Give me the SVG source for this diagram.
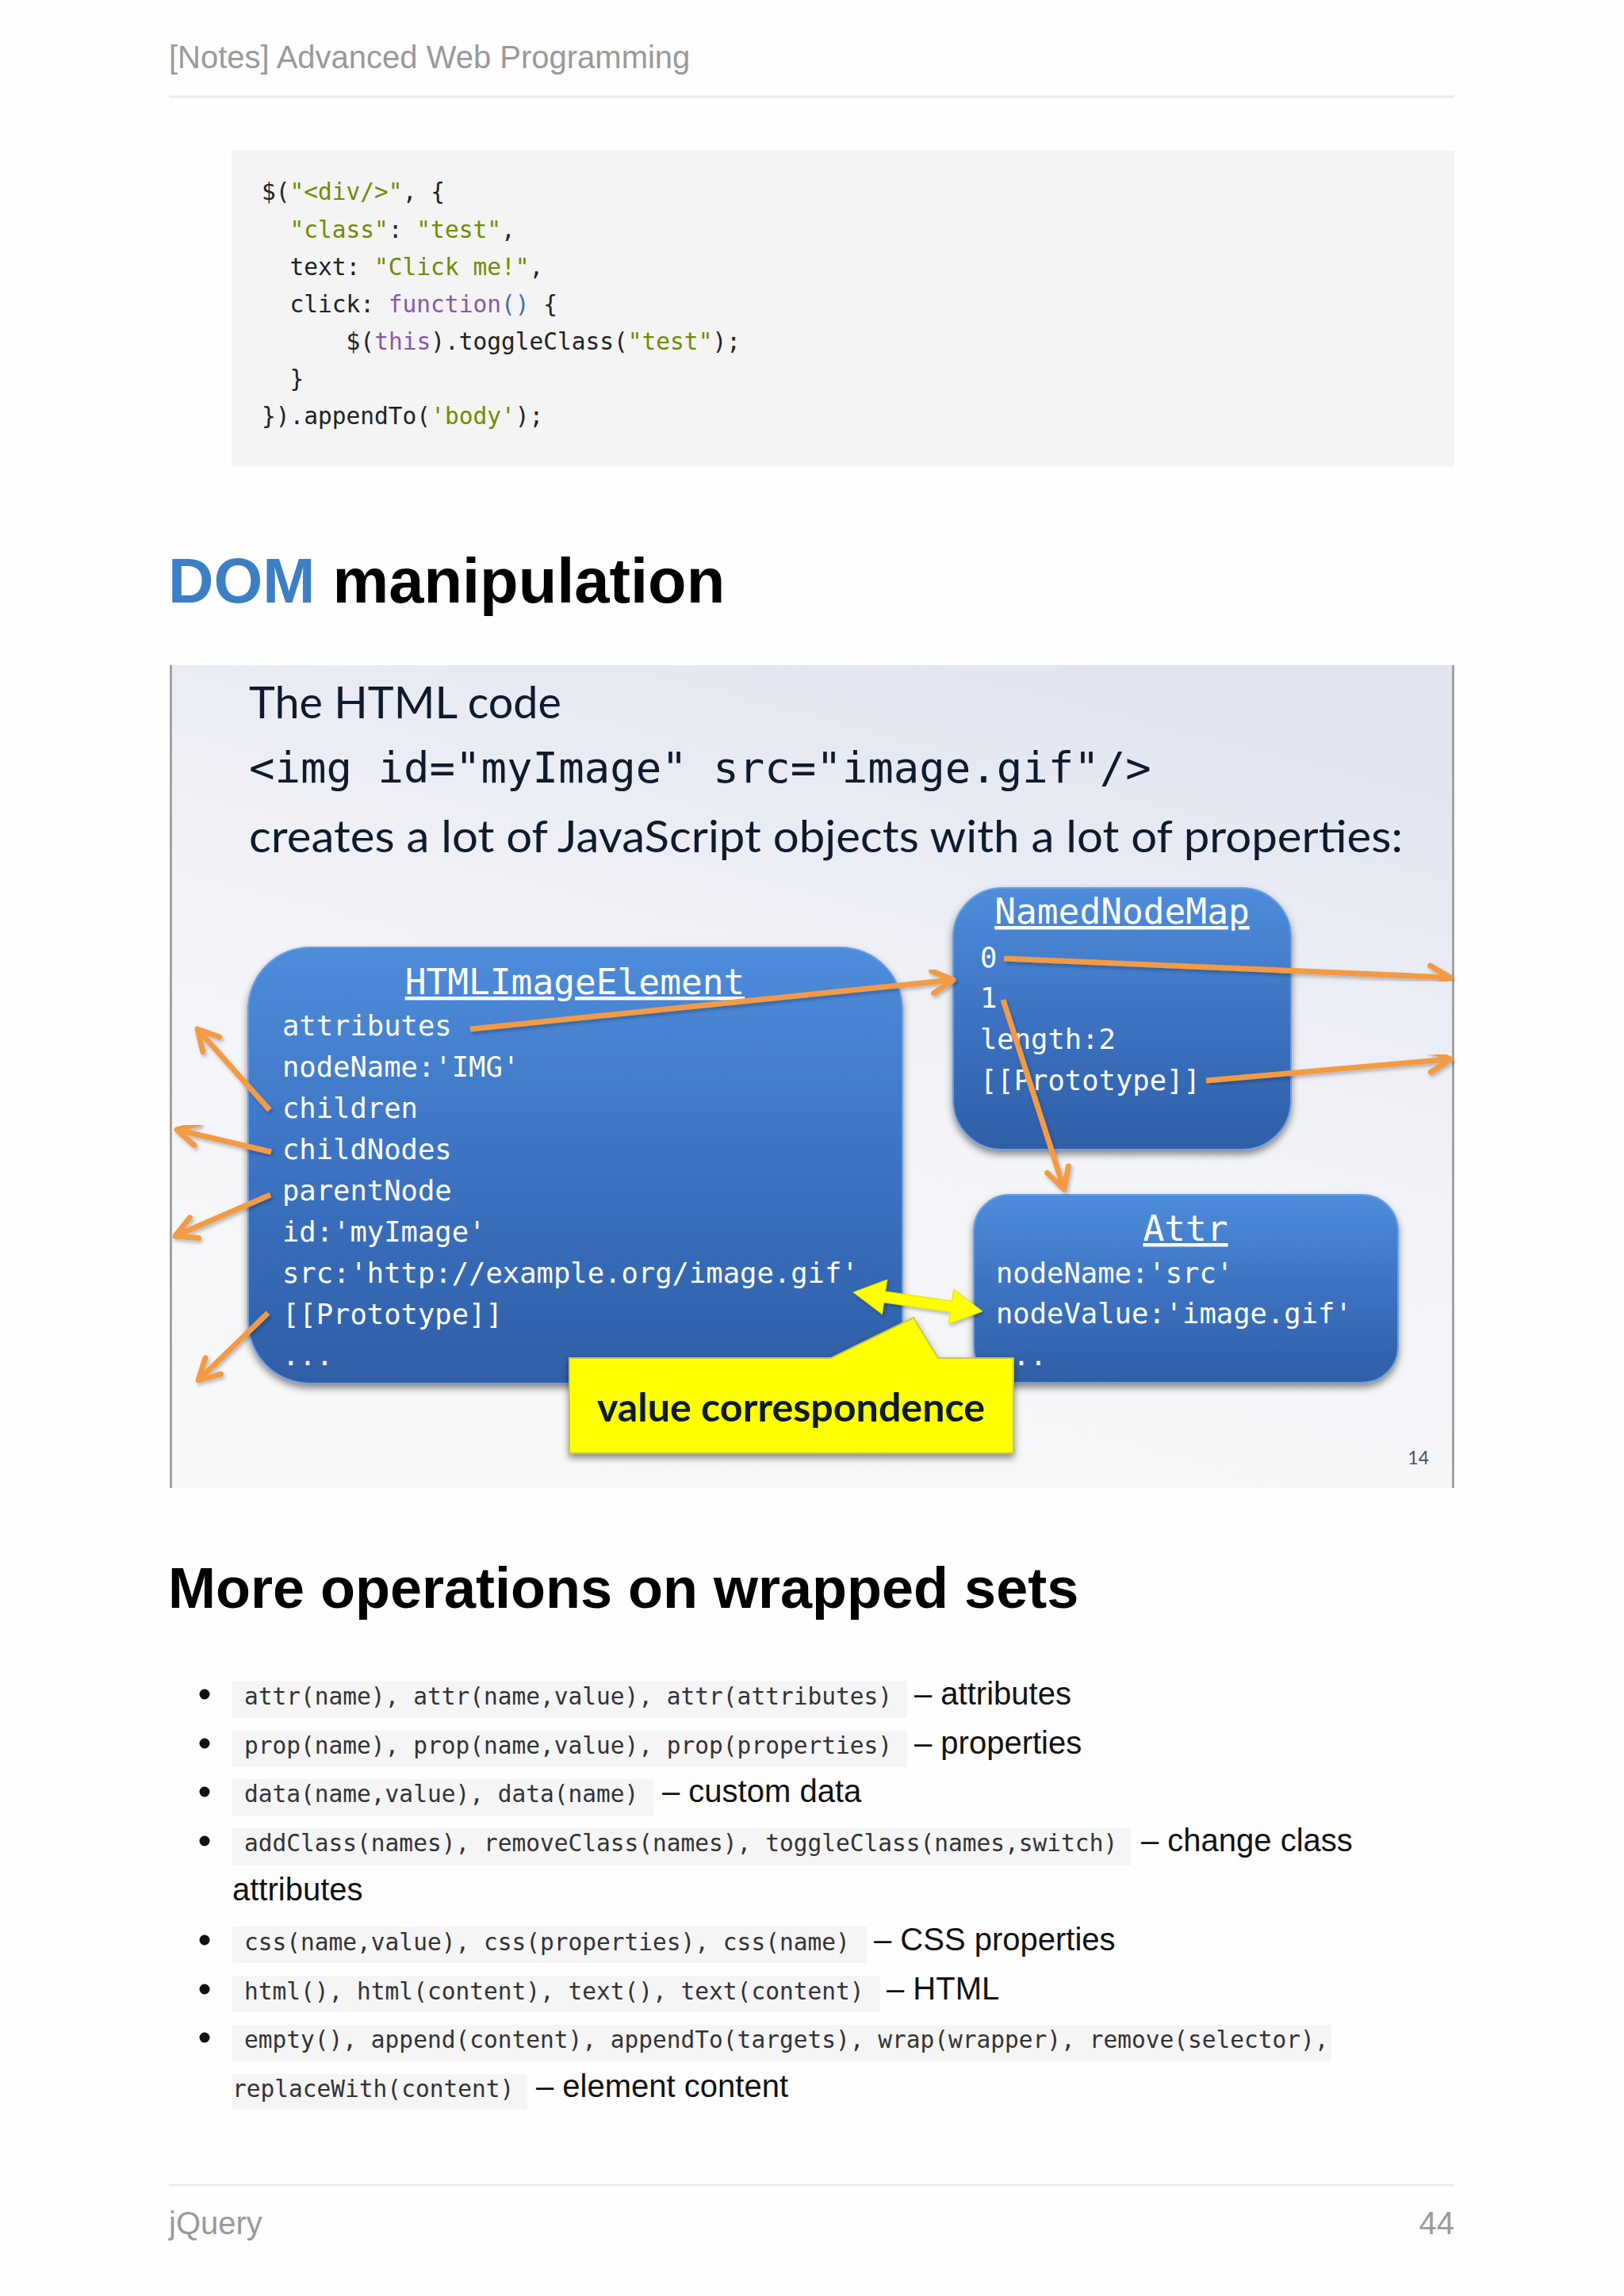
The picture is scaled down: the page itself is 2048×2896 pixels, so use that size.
<svg xmlns="http://www.w3.org/2000/svg" width="2048" height="2896" viewBox="0 0 2048 2896">
<defs>
<style>
.hdr{font-family:"Liberation Sans",Arial,sans-serif;font-size:40px;fill:#9a9a9a}
.code{font-family:"DejaVu Sans Mono","Liberation Mono",monospace;font-size:29.5px;fill:#222}
.str{fill:#718c00}.kw{fill:#8959a8}.par{fill:#4271ae}
.h1{font-family:"Liberation Sans",Arial,sans-serif;font-weight:bold;fill:#000}
.slide{font-family:Lato,"Open Sans",sans-serif;font-size:56px;fill:#0f1b2d}
.smono{font-family:"DejaVu Sans Mono","Liberation Mono",monospace;fill:#0f1b2d}
.bt{font-family:"DejaVu Sans Mono","Liberation Mono",monospace;font-size:35.5px;fill:#fff}
.btt{font-family:"DejaVu Sans Mono","Liberation Mono",monospace;font-size:44.5px;fill:#fff;text-decoration:underline;text-anchor:middle}
.box{fill:url(#boxg);stroke:#6a9fe0;stroke-width:2;filter:url(#sh)}
.oarr{fill:none;stroke:#f39a45;stroke-width:7;marker-end:url(#oh);filter:url(#ash)}
.li{font-family:"Liberation Sans",Arial,sans-serif;font-size:40px;fill:#111}
.lc{font-family:"DejaVu Sans Mono","Liberation Mono",monospace;font-size:29.5px;fill:#333}
.cbg{fill:#f5f5f6}
.bul{fill:#111}
</style>
<linearGradient id="slg" x1="0.3" y1="1" x2="0.7" y2="0">
<stop offset="0" stop-color="#f8f8f9"/>
<stop offset="0.5" stop-color="#f3f4f8"/>
<stop offset="1" stop-color="#e1e5f0"/>
</linearGradient>
<linearGradient id="boxg" x1="0" y1="0" x2="0" y2="1">
<stop offset="0" stop-color="#4e8ddb"/>
<stop offset="0.5" stop-color="#3c73c2"/>
<stop offset="1" stop-color="#2f5ea6"/>
</linearGradient>
<filter id="sh" x="-10%" y="-10%" width="120%" height="130%">
<feDropShadow dx="0" dy="5" stdDeviation="5" flood-color="#000" flood-opacity="0.45"/>
</filter>
<filter id="ash" x="-20%" y="-20%" width="140%" height="140%">
<feDropShadow dx="2" dy="3" stdDeviation="2" flood-color="#000" flood-opacity="0.25"/>
</filter>
<marker id="oh" markerUnits="userSpaceOnUse" viewBox="0 0 40 40" markerWidth="40" markerHeight="40" refX="34" refY="20" orient="auto">
<path d="M8,6 L34,20 L8,34" fill="none" stroke="#f39a45" stroke-width="7" stroke-linecap="round" stroke-linejoin="round"/>
</marker>
</defs>

<rect width="2048" height="2896" fill="#fefefe"/>

<g id="header">
<text class="hdr" x="213" y="86">[Notes] Advanced Web Programming</text>
<line x1="213" y1="122" x2="1834" y2="122" stroke="#ececec" stroke-width="3"/>
</g>

<g id="code-block">
<rect x="292" y="190" width="1542" height="398" fill="#f4f4f5"/>
<text class="code" xml:space="preserve" x="330" y="252">$(<tspan class="str">"&lt;div/&gt;"</tspan>, {</text>
<text class="code" xml:space="preserve" x="365.5" y="300"><tspan class="str">"class"</tspan>: <tspan class="str">"test"</tspan>,</text>
<text class="code" xml:space="preserve" x="365.5" y="347">text: <tspan class="str">"Click me!"</tspan>,</text>
<text class="code" xml:space="preserve" x="365.5" y="394">click: <tspan class="kw">function</tspan><tspan class="par">()</tspan> {</text>
<text class="code" xml:space="preserve" x="436.6" y="441">$(<tspan class="kw">this</tspan>).toggleClass(<tspan class="str">"test"</tspan>);</text>
<text class="code" xml:space="preserve" x="365.5" y="488">}</text>
<text class="code" xml:space="preserve" x="330" y="535">}).appendTo(<tspan class="str">'body'</tspan>);</text>
</g>

<g id="title-dom">
<text class="h1" x="212" y="760" font-size="79.5"><tspan fill="#3d7fc4">DOM</tspan> manipulation</text>
</g>

<g id="slide">
<rect x="214" y="839" width="1620" height="1038" fill="url(#slg)"/>
<line x1="215.5" y1="839" x2="215.5" y2="1877" stroke="#a3a3a3" stroke-width="3"/>
<line x1="1832.5" y1="839" x2="1832.5" y2="1877" stroke="#a3a3a3" stroke-width="3"/>
<text class="slide" x="314" y="906" textLength="394" lengthAdjust="spacingAndGlyphs">The HTML code</text>
<text class="smono" x="314" y="987" font-size="54">&lt;img id="myImage" src="image.gif"/&gt;</text>
<text class="slide" x="314" y="1075" textLength="1455" lengthAdjust="spacingAndGlyphs">creates a lot of JavaScript objects with a lot of properties:</text>
<text x="1802" y="1847" font-family="Lato,'Open Sans',sans-serif" font-size="23" fill="#44546a" text-anchor="end">14</text>
</g>

<g id="node-htmlimageelement">
<rect class="box" x="313" y="1195" width="825" height="550" rx="78" ry="78"/>
<text class="btt" x="725" y="1254">HTMLImageElement</text>
<text class="bt" x="356" y="1306">attributes</text>
<text class="bt" x="356" y="1358">nodeName:'IMG'</text>
<text class="bt" x="356" y="1410">children</text>
<text class="bt" x="356" y="1462">childNodes</text>
<text class="bt" x="356" y="1514">parentNode</text>
<text class="bt" x="356" y="1566">id:'myImage'</text>
<text class="bt" x="356" y="1618">src:'http://example.org/image.gif'</text>
<text class="bt" x="356" y="1670">[[Prototype]]</text>
<text class="bt" x="356" y="1722">...</text>
</g>

<g id="node-namednodemap">
<rect class="box" x="1202" y="1120" width="426" height="330" rx="62" ry="62"/>
<text class="btt" x="1415" y="1165">NamedNodeMap</text>
<text class="bt" x="1236" y="1220">0</text>
<text class="bt" x="1236" y="1271">1</text>
<text class="bt" x="1236" y="1323">length:2</text>
<text class="bt" x="1236" y="1375">[[Prototype]]</text>
</g>

<g id="node-attr">
<rect class="box" x="1228" y="1507" width="535" height="237" rx="45" ry="45"/>
<text class="btt" x="1495" y="1565">Attr</text>
<text class="bt" x="1256" y="1618">nodeName:'src'</text>
<text class="bt" x="1256" y="1669">nodeValue:'image.gif'</text>
<text class="bt" x="1256" y="1722">...</text>
</g>

<g id="connectors">
<line class="oarr" x1="593" y1="1298" x2="1202" y2="1236"/>
<line class="oarr" x1="340" y1="1400" x2="249" y2="1298"/>
<line class="oarr" x1="342" y1="1453" x2="223" y2="1425"/>
<line class="oarr" x1="341" y1="1507" x2="221" y2="1559"/>
<line class="oarr" x1="338" y1="1656" x2="250" y2="1741"/>
<line class="oarr" x1="1266" y1="1209" x2="1829" y2="1233"/>
<line class="oarr" x1="1521" y1="1363" x2="1829" y2="1336"/>
<line class="oarr" x1="1265" y1="1261" x2="1342" y2="1500"/>
<polygon points="1076,1630 1118.8,1614.1 1116.6,1628.9 1200.5,1641.2 1202.6,1626.4 1239,1654 1196.2,1669.9 1198.4,1655.1 1114.6,1642.8 1112.4,1657.6" fill="#ffff00" stroke="#e0e000" stroke-width="1" filter="url(#ash)"/>
</g>

<g id="callout-value-correspondence">
<path d="M718,1713 L1048,1713 L1152,1662 L1183,1713 L1278,1713 L1278,1833 L718,1833 Z" fill="#ffff00" stroke="#c8c84a" stroke-width="2" filter="url(#sh)"/>
<text x="753" y="1793" font-family="Lato,'Open Sans',sans-serif" font-weight="bold" font-size="50" fill="#0d1a2b" textLength="489" lengthAdjust="spacingAndGlyphs">value correspondence</text>
</g>

<g id="title-more">
<text class="h1" x="212" y="2028" font-size="72">More operations on wrapped sets</text>
</g>

<g id="list">
<circle class="bul" cx="258" cy="2137" r="6.5"/>
<rect class="cbg" x="293" y="2120" width="851" height="47"/>
<text class="lc" x="308" y="2150">attr(name), attr(name,value), attr(attributes)</text>
<text class="li" x="1153" y="2150">– attributes</text>

<circle class="bul" cx="258" cy="2199" r="6.5"/>
<rect class="cbg" x="293" y="2183" width="851" height="46"/>
<text class="lc" x="308" y="2212">prop(name), prop(name,value), prop(properties)</text>
<text class="li" x="1153" y="2212">– properties</text>

<circle class="bul" cx="258" cy="2260" r="6.5"/>
<rect class="cbg" x="293" y="2244" width="531" height="46"/>
<text class="lc" x="308" y="2273">data(name,value), data(name)</text>
<text class="li" x="835" y="2273">– custom data</text>

<circle class="bul" cx="258" cy="2322" r="6.5"/>
<rect class="cbg" x="293" y="2306" width="1133" height="47"/>
<text class="lc" x="308" y="2335">addClass(names), removeClass(names), toggleClass(names,switch)</text>
<text class="li" x="1439" y="2335">– change class</text>
<text class="li" x="293" y="2397">attributes</text>

<circle class="bul" cx="258" cy="2447" r="6.5"/>
<rect class="cbg" x="293" y="2430" width="800" height="46"/>
<text class="lc" x="308" y="2460">css(name,value), css(properties), css(name)</text>
<text class="li" x="1102" y="2460">– CSS properties</text>

<circle class="bul" cx="258" cy="2509" r="6.5"/>
<rect class="cbg" x="293" y="2492" width="817" height="45"/>
<text class="lc" x="308" y="2522">html(), html(content), text(), text(content)</text>
<text class="li" x="1118" y="2522">– HTML</text>

<circle class="bul" cx="258" cy="2570" r="6.5"/>
<rect class="cbg" x="293" y="2554" width="1386" height="46"/>
<text class="lc" x="308" y="2583">empty(), append(content), appendTo(targets), wrap(wrapper), remove(selector),</text>
<rect class="cbg" x="293" y="2616" width="372" height="45"/>
<text class="lc" x="293" y="2645">replaceWith(content)</text>
<text class="li" x="676" y="2645">– element content</text>
</g>

<g id="footer">
<line x1="213" y1="2756" x2="1834" y2="2756" stroke="#ececec" stroke-width="3"/>
<text class="hdr" x="213" y="2818" fill="#aaa">jQuery</text>
<text class="hdr" x="1834" y="2818" text-anchor="end">44</text>
</g>
</svg>
